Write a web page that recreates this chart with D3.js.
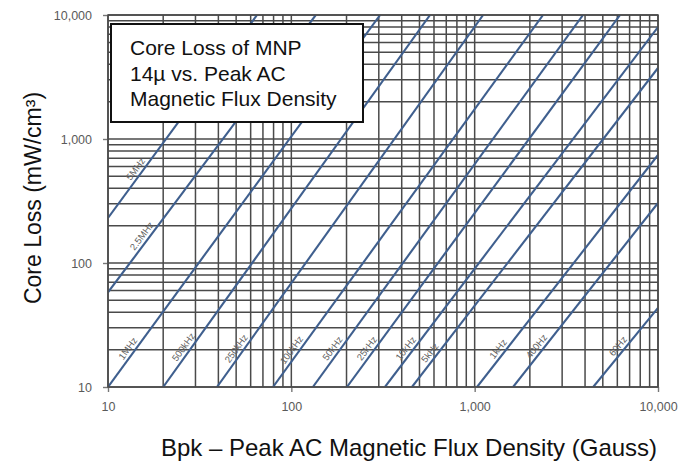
<!DOCTYPE html>
<html><head><meta charset="utf-8">
<script src="https://cdn.jsdelivr.net/npm/d3@7"></script>
<style>body{margin:0;background:#fff} svg{display:block}</style>
</head><body>
<svg id="c" width="682" height="468"></svg>
<script>
// Frequency curves (each a straight line on log-log axes), endpoints
const freqLabels = ["5MHz","2.5MHz","1MHz","500kHz","250kHz","100kHz","50kHz","25kHz","10kHz","5kHz","1kHz","400Hz","60Hz"];
const startB = [10, 10, 10, 20, 39.3, 79.4, 131, 201, 324, 455, 1030, 1620, 4430];
const startP = [231, 58, 10, 10, 10, 10, 10, 10, 10, 10, 10, 10, 10];
const endB   = [65, 136, 305, 571, 1112, 2360, 3900, 6210, 10000, 10000, 10000, 10000, 10000];
const endP   = [10000, 10000, 10000, 10000, 10000, 10000, 10000, 10000, 8000, 3740, 743, 305, 43.4];
// Core loss value at which each curve's label sits
const labelP = [532, 153, 19, 19.5, 19, 18.5, 19, 19, 19, 17.5, 18.8, 19.7, 19.7];
const xTicks = [10, 100, 1000, 10000];
const yTicks = [10, 100, 1000, 10000];
const titleLines = ["Core Loss of MNP", "14\u00b5 vs. Peak AC", "Magnetic Flux Density"];
const xTitle = "Bpk \u2013 Peak AC Magnetic Flux Density (Gauss)";
const yTitle = "Core Loss (mW/cm\u00b3)";

const svg = d3.select("#c");
const L = 108, R = 658, T = 15, B = 387;
const x = d3.scaleLog().domain([10, 10000]).range([L, R]);
const y = d3.scaleLog().domain([10, 10000]).range([B, T]);
const gridColor = "#4a4a4a";
const font = "'Liberation Sans', Arial, sans-serif";

// minor + major grid values
const gridVals = [];
for (let e = 1; e < 4; e++) for (let m = 1; m < 10; m++) gridVals.push(m * Math.pow(10, e));
gridVals.push(10000);

const g = svg.append("g");
g.selectAll("line.v").data(gridVals).join("line")
  .attr("x1", d => x(d)).attr("x2", d => x(d)).attr("y1", T).attr("y2", B)
  .attr("stroke", gridColor).attr("stroke-width", 1.5);
g.selectAll("line.h").data(gridVals).join("line")
  .attr("y1", d => y(d)).attr("y2", d => y(d)).attr("x1", L).attr("x2", R)
  .attr("stroke", gridColor).attr("stroke-width", 1.5);

// axes
const yAxis = svg.append("g").attr("transform", `translate(${L},0)`)
  .call(d3.axisLeft(y).tickValues(yTicks).tickFormat(d3.format(",")).tickSize(5).tickPadding(11));
const xAxis = svg.append("g").attr("transform", `translate(0,${B})`)
  .call(d3.axisBottom(x).tickValues(xTicks).tickFormat(d3.format(",")).tickSize(5).tickPadding(10));
[yAxis, xAxis].forEach(a => {
  a.select(".domain").remove();
  a.selectAll(".tick line").attr("stroke", "#777").attr("stroke-width", 1.4);
  a.selectAll(".tick text").attr("fill", "#5a5a5a").style("font-family", font).style("font-size", "12.5px");
});

// clip
svg.append("clipPath").attr("id", "pc").append("rect")
  .attr("x", L).attr("y", T).attr("width", R - L).attr("height", B - T);

const curves = freqLabels.map((f, i) => ({
  f, b0: startB[i], p0: startP[i], b1: endB[i], p1: endP[i], lp: labelP[i]
}));

const lg = svg.append("g").attr("clip-path", "url(#pc)");
lg.selectAll("line.curve").data(curves).join("line")
  .attr("x1", d => x(d.b0)).attr("y1", d => y(d.p0))
  .attr("x2", d => x(d.b1)).attr("y2", d => y(d.p1))
  .attr("stroke", "#3f5f8e").attr("stroke-width", 2.1);

// labels along curves
curves.forEach(d => {
  const lb0 = Math.log10(d.b0), lb1 = Math.log10(d.b1);
  const lp0 = Math.log10(d.p0), lp1 = Math.log10(d.p1);
  const t = (Math.log10(d.lp) - lp0) / (lp1 - lp0);
  const bl = Math.pow(10, lb0 + t * (lb1 - lb0));
  const px = x(bl), py = y(d.lp);
  const ang = Math.atan2(y(d.p1) - y(d.p0), x(d.b1) - x(d.b0)) * 180 / Math.PI;
  svg.append("text")
    .attr("transform", `translate(${px},${py}) rotate(${ang}) translate(0,-7)`)
    .attr("text-anchor", "middle").attr("dominant-baseline", "central")
    .attr("fill", "#606060").style("font-family", font).style("font-size", "9.5px")
    .text(d.f);
});

// plot border
svg.append("rect").attr("x", L).attr("y", T).attr("width", R - L).attr("height", B - T)
  .attr("fill", "none").attr("stroke", gridColor).attr("stroke-width", 1.5);

// title box
svg.append("rect").attr("x", 111).attr("y", 24).attr("width", 252).attr("height", 98)
  .attr("fill", "#fff").attr("stroke", "#111").attr("stroke-width", 2);
svg.append("text").attr("x", 130).attr("y", 55)
  .style("font-family", font).style("font-size", "21px").attr("fill", "#111")
  .selectAll("tspan").data(titleLines).join("tspan")
  .attr("x", 130).attr("dy", (d, i) => i === 0 ? 0 : 25.5).text(d => d);

// axis titles
svg.append("text").attr("x", 409).attr("y", 456).attr("text-anchor", "middle")
  .style("font-family", font).style("font-size", "24px").attr("fill", "#111").text(xTitle);
svg.append("text").attr("transform", "translate(41,198) rotate(-90)").attr("text-anchor", "middle")
  .style("font-family", font).style("font-size", "23px").attr("fill", "#111").text(yTitle);
</script>
</body></html>
